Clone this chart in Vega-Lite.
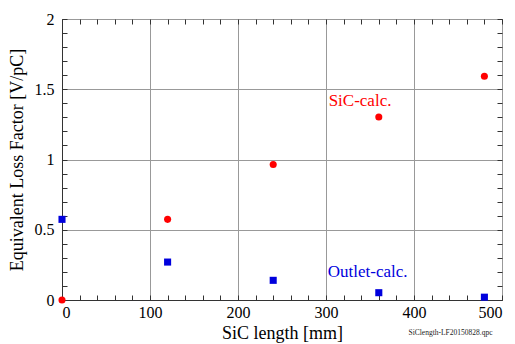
{
  "$schema": "https://vega.github.io/schema/vega-lite/v6.json",
  "width": 440,
  "height": 281,
  "autosize": {"type": "none"},
  "padding": {"left": 62, "top": 19, "right": 13, "bottom": 44},
  "config": {
    "view": {"stroke": "#333", "strokeWidth": 1},
    "font": "Liberation Serif",
    "text": {"font": "Liberation Serif"},
    "axis": {"labelFont": "Liberation Serif", "titleFont": "Liberation Serif"}
  },
  "title": {
    "text": "SiClength-LF20150828.qpc",
    "orient": "bottom",
    "anchor": "end",
    "offset": -13,
    "dx": -10,
    "fontSize": 7.5,
    "fontWeight": "normal",
    "font": "Liberation Serif",
    "color": "#222"
  },
  "datasets": {
    "points": [
      {"len": 0, "lf": 0.0, "series": "SiC-calc."},
      {"len": 120, "lf": 0.574, "series": "SiC-calc."},
      {"len": 240, "lf": 0.964, "series": "SiC-calc."},
      {"len": 360, "lf": 1.302, "series": "SiC-calc."},
      {"len": 480, "lf": 1.593, "series": "SiC-calc."},
      {"len": 0, "lf": 0.574, "series": "Outlet-calc."},
      {"len": 120, "lf": 0.27, "series": "Outlet-calc."},
      {"len": 240, "lf": 0.14, "series": "Outlet-calc."},
      {"len": 360, "lf": 0.052, "series": "Outlet-calc."},
      {"len": 480, "lf": 0.02, "series": "Outlet-calc."}
    ],
    "labels": [
      {"len": 303, "lf": 1.38, "series": "SiC-calc.", "label": "SiC-calc."},
      {"len": 302, "lf": 0.164, "series": "Outlet-calc.", "label": "Outlet-calc."}
    ]
  },
  "layer": [
    {
      "data": {"name": "points"},
      "mark": {"type": "point", "filled": true, "opacity": 1, "size": 50},
      "encoding": {
        "x": {
          "field": "len", "type": "quantitative",
          "scale": {"domain": [0, 500], "nice": false, "zero": false},
          "axis": {
            "orient": "bottom",
            "values": [0, 100, 200, 300, 400, 500],
            "format": "d",
            "grid": true, "gridColor": "#999", "gridOpacity": 1,
            "ticks": false, "domain": true, "domainColor": "#333",
            "labelFont": "Liberation Serif", "labelFontSize": 16, "labelColor": "#000", "labelPadding": 4,
            "title": "SiC length [mm]", "titleFont": "Liberation Serif", "titleFontSize": 18, "titleFontWeight": "normal", "titleColor": "#000", "titlePadding": 4
          }
        },
        "y": {
          "field": "lf", "type": "quantitative",
          "scale": {"domain": [0, 2], "nice": false, "zero": false},
          "axis": {
            "orient": "left",
            "values": [0, 0.5, 1, 1.5, 2],
            "format": "~g",
            "grid": true, "gridColor": "#999", "gridOpacity": 1,
            "ticks": false, "domain": true, "domainColor": "#333",
            "labelFont": "Liberation Serif", "labelFontSize": 16, "labelColor": "#000", "labelPadding": 8,
            "title": "Equivalent Loss Factor [V/pC]", "titleFont": "Liberation Serif", "titleFontSize": 18, "titleFontWeight": "normal", "titleColor": "#000", "titlePadding": 8
          }
        },
        "color": {
          "field": "series", "type": "nominal",
          "scale": {"domain": ["SiC-calc.", "Outlet-calc."], "range": ["#ff0000", "#0000dd"]},
          "legend": null
        },
        "shape": {
          "field": "series", "type": "nominal",
          "scale": {"domain": ["SiC-calc.", "Outlet-calc."], "range": ["circle", "square"]},
          "legend": null
        }
      }
    },
    {
      "data": {"name": "labels"},
      "mark": {"type": "text", "align": "left", "baseline": "alphabetic", "fontSize": 17, "font": "Liberation Serif"},
      "encoding": {
        "x": {
          "field": "len", "type": "quantitative",
          "scale": {"domain": [0, 500], "nice": false, "zero": false},
          "axis": {
            "orient": "bottom",
            "values": [0, 20, 40, 60, 80, 100, 120, 140, 160, 180, 200, 220, 240, 260, 280, 300, 320, 340, 360, 380, 400, 420, 440, 460, 480, 500],
            "grid": false, "labels": false, "domain": false, "title": null,
            "ticks": true, "tickSize": -5, "tickColor": "#333"
          }
        },
        "y": {
          "field": "lf", "type": "quantitative",
          "scale": {"domain": [0, 2], "nice": false, "zero": false},
          "axis": {
            "orient": "left",
            "values": [0, 0.1, 0.2, 0.3, 0.4, 0.5, 0.6, 0.7, 0.8, 0.9, 1, 1.1, 1.2, 1.3, 1.4, 1.5, 1.6, 1.7, 1.8, 1.9, 2],
            "grid": false, "labels": false, "domain": false, "title": null,
            "ticks": true, "tickSize": -5, "tickColor": "#333"
          }
        },
        "text": {"field": "label", "type": "nominal"},
        "color": {"field": "series", "type": "nominal", "legend": null}
      }
    },
    {
      "data": {"name": "points"},
      "mark": {"type": "point", "opacity": 0},
      "encoding": {
        "x": {
          "field": "len", "type": "quantitative",
          "scale": {"domain": [0, 500], "nice": false, "zero": false},
          "axis": {
            "orient": "top",
            "values": [0, 20, 40, 60, 80, 100, 120, 140, 160, 180, 200, 220, 240, 260, 280, 300, 320, 340, 360, 380, 400, 420, 440, 460, 480, 500],
            "grid": false, "labels": false, "domain": false, "title": null,
            "ticks": true, "tickSize": -5, "tickColor": "#333"
          }
        },
        "y": {
          "field": "lf", "type": "quantitative",
          "scale": {"domain": [0, 2], "nice": false, "zero": false},
          "axis": {
            "orient": "right",
            "values": [0, 0.1, 0.2, 0.3, 0.4, 0.5, 0.6, 0.7, 0.8, 0.9, 1, 1.1, 1.2, 1.3, 1.4, 1.5, 1.6, 1.7, 1.8, 1.9, 2],
            "grid": false, "labels": false, "domain": false, "title": null,
            "ticks": true, "tickSize": -5, "tickColor": "#333"
          }
        }
      }
    }
  ],
  "resolve": {"axis": {"x": "independent", "y": "independent"}}
}
